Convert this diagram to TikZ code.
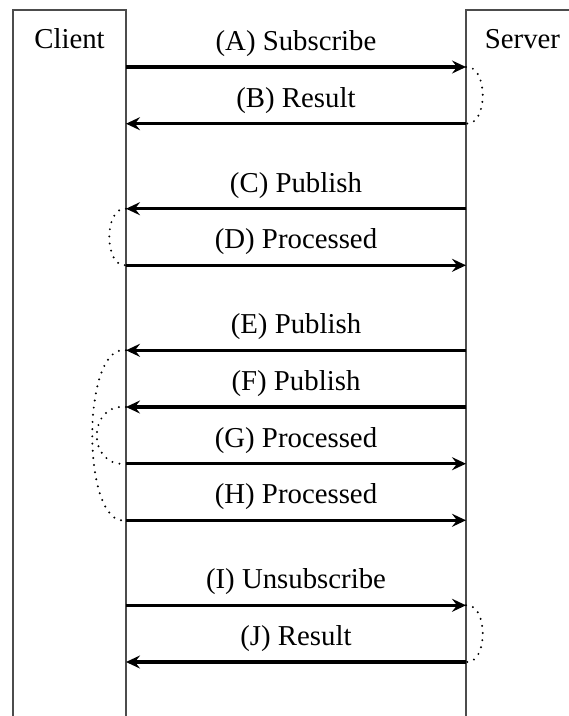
\documentclass[tikz,border=0pt]{standalone}
\usepackage{fontspec}
\setmainfont{Liberation Serif}
\usetikzlibrary{arrows.meta}
\begin{document}
\begin{tikzpicture}[x=1pt,y=-1pt,
  lifeline/.style={draw=black!70,line width=1.1pt},
  msg/.style={line width=3.2pt,-{Stealth[length=14pt,width=13pt,inset=5pt]}},
  lbl/.style={font=\fontsize{28.8}{34}\selectfont,anchor=base,inner sep=0pt},
  waitcurve/.style={line width=2.2pt,line cap=round,dash pattern=on 0pt off 7.2pt}]
\useasboundingbox (0,0) rectangle (569,716);

% participant frames
\draw[lifeline] (13,716) -- (13,10) -- (126,10) -- (126,716);
\draw[lifeline] (466,716) -- (466,10) -- (569,10);
\node[lbl] (client) at (69.5,48.3) {Client};
\node[lbl] (server) at (522.5,48.3) {Server};

% message end points on the client (c) and server (s) sides
\foreach \n/\y in {A/67,B/123.7,C/208.7,D/265.3,E/350.3,F/407,G/463.7,H/520.3,I/605.3,J/662}{
  \coordinate (c\n) at (126,\y);
  \coordinate (s\n) at (466,\y);
  \coordinate (m\n) at (296,\y-16.5);
}

% messages
\draw[msg] (cA) -- (sA);
\node[lbl] (lA) at (mA) {(A) Subscribe};
\draw[msg] (sB) -- (cB);
\node[lbl] (lB) at (mB) {(B) Result};
\draw[msg] (sC) -- (cC);
\node[lbl] (lC) at (mC) {(C) Publish};
\draw[msg] (cD) -- (sD);
\node[lbl] (lD) at (mD) {(D) Processed};
\draw[msg] (sE) -- (cE);
\node[lbl] (lE) at (mE) {(E) Publish};
\draw[msg] (sF) -- (cF);
\node[lbl] (lF) at (mF) {(F) Publish};
\draw[msg] (cG) -- (sG);
\node[lbl] (lG) at (mG) {(G) Processed};
\draw[msg] (cH) -- (sH);
\node[lbl] (lH) at (mH) {(H) Processed};
\draw[msg] (cI) -- (sI);
\node[lbl] (lI) at (mI) {(I) Unsubscribe};
\draw[msg] (sJ) -- (cJ);
\node[lbl] (lJ) at (mJ) {(J) Result};

% request/response pairing
\draw[waitcurve] (sA) .. controls ([xshift=22.3pt,yshift=2pt]sA) and ([xshift=22.3pt,yshift=-2pt]sB) .. (sB);
\draw[waitcurve] (cC) .. controls ([xshift=-22.3pt,yshift=2pt]cC) and ([xshift=-22.3pt,yshift=-2pt]cD) .. (cD);
\draw[waitcurve] (cE) .. controls ([xshift=-45pt,yshift=8pt]cE) and ([xshift=-45pt,yshift=-8pt]cH) .. (cH);
\draw[waitcurve] (cF) .. controls ([xshift=-39pt,yshift=4pt]cF) and ([xshift=-39pt,yshift=-4pt]cG) .. (cG);
\draw[waitcurve] (sI) .. controls ([xshift=22.3pt,yshift=2pt]sI) and ([xshift=22.3pt,yshift=-2pt]sJ) .. (sJ);
\end{tikzpicture}
\end{document}
